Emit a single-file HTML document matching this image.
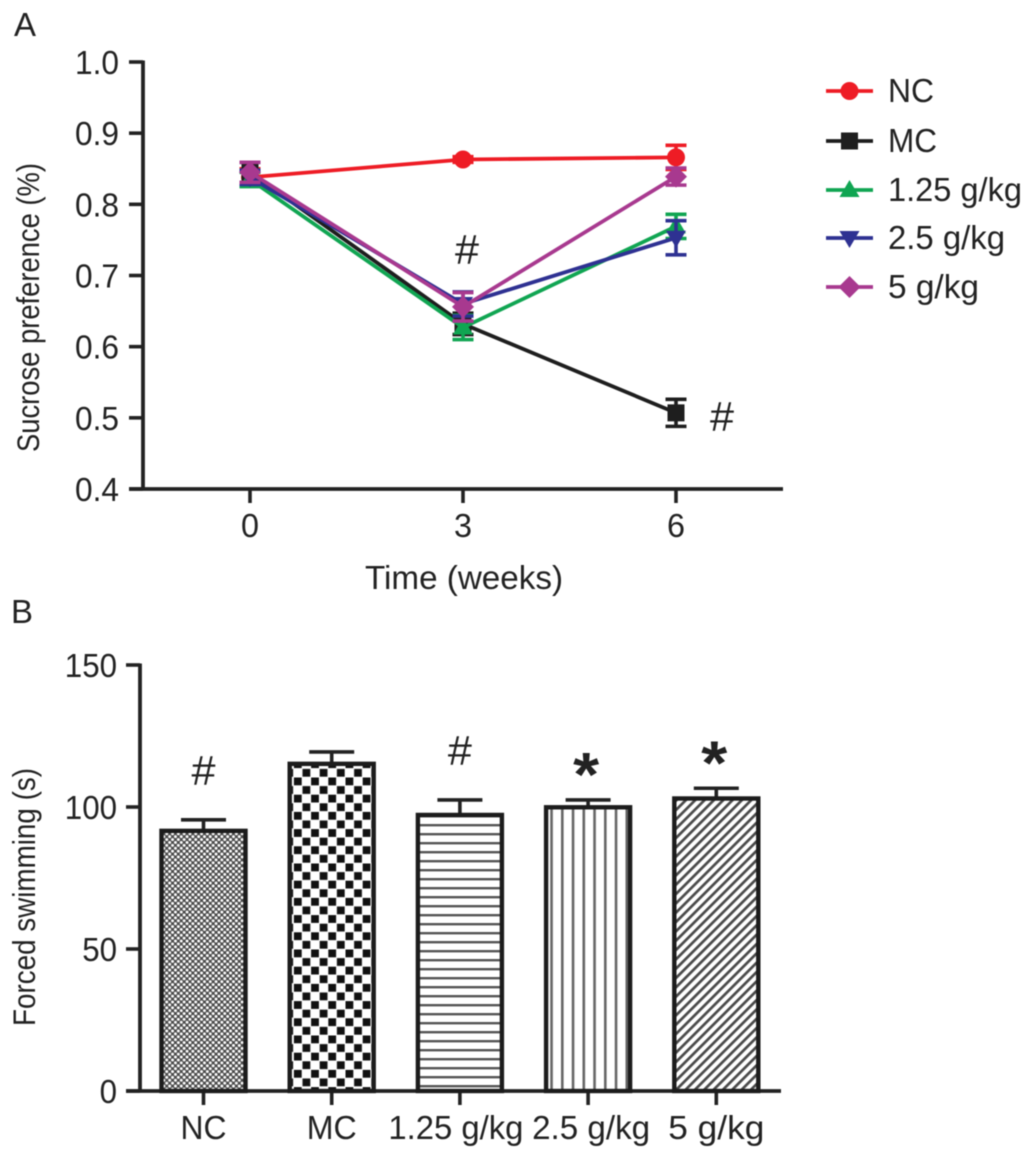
<!DOCTYPE html>
<html>
<head>
<meta charset="utf-8">
<title>Sucrose preference and forced swimming</title>
<style>
html,body{margin:0;padding:0;background:#fff;width:1035px;height:1159px;overflow:hidden}
svg{display:block;filter:blur(0.6px)}
text{font-family:"Liberation Sans",sans-serif;fill:#222}
</style>
</head>
<body>
<svg id="fig" xmlns="http://www.w3.org/2000/svg" width="1035" height="1159" viewBox="0 0 1035 1159">
<defs>
<pattern id="p-dots" patternUnits="userSpaceOnUse" width="5.8" height="5.8" x="0" y="0">
<rect width="5.8" height="5.8" fill="#4a4a4a"/>
<circle cx="1.45" cy="1.45" r="1.5" fill="#fff"/>
<circle cx="4.35" cy="4.35" r="1.5" fill="#fff"/>
</pattern>
<pattern id="p-check" patternUnits="userSpaceOnUse" width="17.2" height="17.2" x="1" y="3">
<rect width="17.2" height="17.2" fill="#fff"/>
<rect x="0.5" y="0.5" width="7.8" height="7.8" fill="#111"/>
<rect x="9.1" y="9.1" width="7.8" height="7.8" fill="#111"/>
</pattern>
<pattern id="p-hlines" patternUnits="userSpaceOnUse" width="9" height="9" x="0" y="5">
<rect width="9" height="9" fill="#fff"/>
<rect y="0" width="9" height="2.4" fill="#555"/>
</pattern>
<pattern id="p-vlines" patternUnits="userSpaceOnUse" width="10.75" height="10" x="2" y="0">
<rect width="10.75" height="10" fill="#fff"/>
<rect x="0" width="2.6" height="10" fill="#666"/>
</pattern>
<pattern id="p-diag" patternUnits="userSpaceOnUse" width="6.6" height="6.6" patternTransform="rotate(45)">
<rect width="6.6" height="6.6" fill="#fff"/>
<rect x="0" width="2.7" height="6.6" fill="#4a4a4a"/>
</pattern>
</defs>
</svg>
<script>
// Panel A data
const weeks = [0, 3, 6];
const seriesNames = ['NC', 'MC', '1.25 g/kg', '2.5 g/kg', '5 g/kg'];
const ncValues = [0.838, 0.863, 0.866];
const ncErrors = [0.012, 0.004, 0.017];
const mcValues = [0.845, 0.632, 0.507];
const mcErrors = [0.014, 0.015, 0.019];
const lowDoseValues = [0.835, 0.627, 0.769];
const lowDoseErrors = [0.010, 0.017, 0.017];
const midDoseValues = [0.838, 0.660, 0.753];
const midDoseErrors = [0.010, 0.017, 0.024];
const highDoseValues = [0.845, 0.656, 0.839];
const highDoseErrors = [0.014, 0.020, 0.012];
const preferenceTicks = [0.4, 0.5, 0.6, 0.7, 0.8, 0.9, 1.0];
// Panel B data
const groupNames = ['NC', 'MC', '1.25 g/kg', '2.5 g/kg', '5 g/kg'];
const swimValues = [91.6, 115.2, 97.2, 99.9, 103.0];
const swimErrors = [3.9, 4.2, 5.3, 2.6, 3.6];
const swimTicks = [0, 50, 100, 150];

const NS = 'http://www.w3.org/2000/svg';
const svg = document.getElementById('fig');
const INK = '#222';

function xA(w) { return 250 + (w / 3) * 213; }
function yA(v) { return 489 - (v - 0.4) * (427 / 0.6); }
function xB(i) { return 203.5 + i * 128.2; }
function yB(v) { return 1091 - v * (426 / 150); }

function make(tag, attrs, name, parent) {
  const el = document.createElementNS(NS, tag);
  for (const k in attrs) el.setAttribute(k, attrs[k]);
  
  
  (parent || svg).appendChild(el);
  return el;
}
function line(x1, y1, x2, y2, stroke, w, name, parent) {
  return make('line', {x1: x1, y1: y1, x2: x2, y2: y2, stroke: stroke, 'stroke-width': w}, name, parent);
}
function label(str, x, y, size, anchor, fit, name, parent, extra) {
  const attrs = {x: x, y: y, 'font-size': size, 'text-anchor': anchor};
  if (fit) { attrs.textLength = fit; attrs.lengthAdjust = 'spacingAndGlyphs'; }
  if (extra) for (const k in extra) attrs[k] = extra[k];
  const t = make('text', attrs, name, parent);
  t.textContent = str;
  return t;
}
function marker(kind, x, y, color, name, parent) {
  if (kind === 'circle') return make('circle', {cx: x, cy: y, r: 9, fill: color}, name, parent);
  if (kind === 'square') return make('rect', {x: x - 8.5, y: y - 8.5, width: 17, height: 17, fill: color}, name, parent);
  let pts;
  if (kind === 'up') pts = [[x, y - 10], [x + 10, y + 7], [x - 10, y + 7]];
  if (kind === 'down') pts = [[x - 10, y - 7], [x + 10, y - 7], [x, y + 10]];
  if (kind === 'diamond') pts = [[x, y - 11], [x + 11, y], [x, y + 11], [x - 11, y]];
  return make('polygon', {points: pts.map(p => p.join(',')).join(' '), fill: color}, name, parent);
}

// ---------- Panel A ----------
label('A', 14, 36, 33, 'start', 22, 'panel-a-label');
const axisA = make('g', {}, 'panel-a-axes');
line(143, 60.5, 143, 490.5, INK, 3.8, 'y-axis-line', axisA);
line(129, 489, 783, 489, INK, 3.8, 'x-axis-line', axisA);
preferenceTicks.forEach(function (t) {
  line(129, yA(t), 143, yA(t), INK, 3.6, 'y-tick', axisA);
  label(t.toFixed(1), 119, yA(t) + 12, 33, 'end', 44, 'y-tick-label', axisA);
});
weeks.forEach(function (w) {
  line(xA(w), 489, xA(w), 503, INK, 3.6, 'x-tick', axisA);
  label(String(w), xA(w), 537, 33, 'middle', 18, 'x-tick-label', axisA);
});
label('Time (weeks)', 464, 589, 33, 'middle', 198, 'x-axis-title', axisA);
label('Sucrose preference (%)', 0, 0, 31.5, 'middle', 289, 'y-axis-title', axisA,
  {transform: 'translate(39,307.5) rotate(-90)'});

const seriesValues = [ncValues, mcValues, lowDoseValues, midDoseValues, highDoseValues];
const seriesErrors = [ncErrors, mcErrors, lowDoseErrors, midDoseErrors, highDoseErrors];
const seriesColors = ['#ee1c25', '#1e1e1e', '#10a552', '#2e3192', '#a8398f'];
const seriesMarkers = ['circle', 'square', 'up', 'down', 'diamond'];
const legendRows = [91, 141, 190, 238, 287];
const legendWidths = [46, 49, 134, 117, 91];

seriesValues.forEach(function (vals, s) {
  const g = make('g', {}, 'series-' + (s + 1));
  const col = seriesColors[s];
  vals.forEach(function (v, i) {
    const x = xA(weeks[i]), e = seriesErrors[s][i];
    line(x, yA(v - e), x, yA(v + e), col, 3.6, 'error-bar', g);
    line(x - 10.5, yA(v + e), x + 10.5, yA(v + e), col, 3.6, 'error-cap-upper', g);
    line(x - 10.5, yA(v - e), x + 10.5, yA(v - e), col, 3.6, 'error-cap-lower', g);
  });
  make('polyline', {
    points: vals.map(function (v, i) { return xA(weeks[i]) + ',' + yA(v); }).join(' '),
    fill: 'none', stroke: col, 'stroke-width': 3.8
  }, 'series-line', g);
  vals.forEach(function (v, i) {
    marker(seriesMarkers[s], xA(weeks[i]), yA(v), col, 'series-point', g);
  });
  const lg = make('g', {}, 'legend-entry', svg);
  
  const ly = legendRows[s];
  line(826, ly, 873, ly, col, 3.8, 'legend-line', lg);
  marker(seriesMarkers[s], 849.5, ly, col, 'legend-marker', lg);
  label(seriesNames[s], 888, ly + 11, 33, 'start', legendWidths[s], 'legend-label', lg);
});

label('#', 467, 264, 42, 'middle', 24, 'significance-week-3');
label('#', 722, 431, 42, 'middle', 24, 'significance-mc-week-6');

// ---------- Panel B ----------
label('B', 11, 623, 33, 'start', 22, 'panel-b-label');
const axisB = make('g', {}, 'panel-b-axes');
line(140, 663.5, 140, 1092.5, INK, 3.8, 'y-axis-line', axisB);
line(126, 1091, 781, 1091, INK, 3.8, 'x-axis-line', axisB);
swimTicks.forEach(function (t) {
  line(126, yB(t), 140, yB(t), INK, 3.6, 'y-tick', axisB);
  label(String(t), 117, yB(t) + 12, 33, 'end', String(t).length * 17.4, 'y-tick-label', axisB);
});
label('Forced swimming (s)', 0, 0, 31.5, 'middle', 258, 'y-axis-title', axisB,
  {transform: 'translate(35,897) rotate(-90)'});

const barFills = ['p-dots', 'p-check', 'p-hlines', 'p-vlines', 'p-diag'];
const labelNudge = [0, 0, -4, 3, 0];
const labelWidths = [46, 50, 135, 118, 96];
const marks = ['#', '', '#', '*', '*'];
const BAR_W = 84;
swimValues.forEach(function (v, i) {
  const c = xB(i);
  const g = make('g', {}, 'bar-' + (i + 1));
  const top = yB(v), capY = yB(v + swimErrors[i]);
  line(c, top, c, capY, INK, 3.6, 'error-bar', g);
  line(c - 22.5, capY, c + 22.5, capY, INK, 3.6, 'error-cap', g);
  make('rect', {
    x: c - BAR_W / 2, y: top, width: BAR_W, height: 1091 - top,
    fill: 'url(#' + barFills[i] + ')', stroke: '#1c1c1c', 'stroke-width': 4.4
  }, 'bar-rect', g);
  line(c, 1091, c, 1105, INK, 3.6, 'x-tick', axisB);
  label(groupNames[i], c + labelNudge[i], 1139, 33, 'middle', labelWidths[i], 'x-tick-label', axisB);
});

// Significance marks sit a fixed gap above each error cap
marks.forEach(function (m, i) {
  if (!m) return;
  const capY = yB(swimValues[i] + swimErrors[i]);
  if (m === '#') {
    label(m, xB(i), capY - 35, 42, 'middle', 24, 'significance-mark');
  } else {
    label(m, xB(i) - 2, capY - 4, 62, 'middle', 26, 'significance-mark', null, {'font-weight': 'bold'});
  }
});
</script>
</body>
</html>
